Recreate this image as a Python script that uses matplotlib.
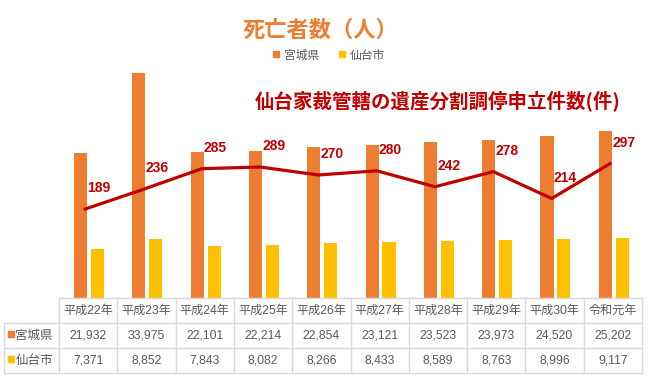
import numpy as np
import matplotlib.pyplot as plt
from matplotlib.lines import Line2D

plt.rcParams['font.family'] = ['Noto Sans CJK JP', 'DejaVu Sans']

# data
years = ["平成22年", "平成23年", "平成24年", "平成25年", "平成26年",
         "平成27年", "平成28年", "平成29年", "平成30年", "令和元年"]
miyagi = [21932, 33975, 22101, 22214, 22854, 23121, 23523, 23973, 24520, 25202]
sendai = [7371, 8852, 7843, 8082, 8266, 8433, 8589, 8763, 8996, 9117]
cases = [189, 236, 285, 289, 270, 280, 242, 278, 214, 297]

ORANGE = "#ED7D31"
YELLOW = "#FFC000"
RED = "#C00000"
GRAY = "#595959"
GRID = "#D9D9D9"
NUMFONT = ['Liberation Sans', 'Noto Sans CJK JP']

W, H = 652, 382
fig = plt.figure(figsize=(W / 100, H / 100), dpi=100)

# main axes: x 59..642 px, y 60..298 px
ax = fig.add_axes([59 / W, (H - 298) / H, 583 / W, 238 / H])
x = np.arange(len(years))
ax.bar(x - 0.13, miyagi, width=0.225, color=ORANGE, zorder=2)
ax.bar(x + 0.16, sendai, width=0.225, color=YELLOW, zorder=2)
ax.set_xlim(-0.5, len(years) - 0.5)
ax.set_ylim(0, 36000)
ax.set_xticks([])
ax.set_yticks([])
for s in ["top", "right", "left"]:
    ax.spines[s].set_visible(False)
ax.spines["bottom"].set_color(GRID)

# secondary axis for the line
ax2 = ax.twinx()
ax2.plot(x - 0.05, cases, color=RED, lw=2.3, zorder=3)
ax2.set_ylim(-22.9, 543.8)
ax2.set_yticks([])
for s in ["top", "right", "left", "bottom"]:
    ax2.spines[s].set_visible(False)
for xi, v in zip(x, cases):
    ax2.annotate(str(v), xy=(xi - 0.05, v), xytext=(1.5, 15), textcoords="offset points",
                 ha="left", va="center", fontsize=10, fontweight="bold", color=RED,
                 family=NUMFONT)

# titles
fig.text(320 / W, 1 - 30.5 / H, "死亡者数（人）", ha="center", va="center",
         fontsize=16, fontweight="bold", color=ORANGE)
fig.text(255 / W, 1 - 101 / H, "仙台家裁管轄の遺産分割調停申立件数(件)", ha="left", va="center",
         fontsize=14, fontweight="bold", color=RED)

handles = [Line2D([], [], marker="s", ls="none", color=ORANGE, markersize=5),
           Line2D([], [], marker="s", ls="none", color=YELLOW, markersize=5)]
fig.legend(handles, ["宮城県", "仙台市"], loc="center", bbox_to_anchor=(329 / W, 1 - 55 / H),
           ncol=2, frameon=False, fontsize=8.5, handlelength=0.6, handletextpad=0.4,
           columnspacing=1.6, labelcolor=GRAY)

# data table below: x aligned with categories, rows 298..373 px
tab = fig.add_axes([59 / W, (H - 373) / H, 583 / W, 75 / H])
tab.set_xlim(-0.5, len(years) - 0.5)
tab.set_ylim(3, 0)
tab.axis("off")
lx = -0.5 - 55 / 58.3
kw = dict(color=GRID, lw=1, clip_on=False)
tab.plot([-0.5, len(years) - 0.5], [0, 0], **kw)
for r in [1, 2, 3]:
    tab.plot([lx, len(years) - 0.5], [r, r], **kw)
for c in range(len(years) + 1):
    tab.plot([c - 0.5, c - 0.5], [0, 3], **kw)
tab.plot([lx, lx], [1, 3], **kw)

for i, y in enumerate(years):
    tab.text(i, 0.5, y, ha="center", va="center", fontsize=8.7, color=GRAY, family=NUMFONT)
    tab.text(i, 1.5, f"{miyagi[i]:,}", ha="center", va="center", fontsize=8.7, color=GRAY,
             family=NUMFONT)
    tab.text(i, 2.5, f"{sendai[i]:,}", ha="center", va="center", fontsize=8.7, color=GRAY,
             family=NUMFONT)

for row, (name, col) in enumerate([("宮城県", ORANGE), ("仙台市", YELLOW)], start=1):
    tab.plot(lx + 6.5 / 58.3, row + 0.45, marker="s", color=col, markersize=5, clip_on=False)
    tab.text(lx + 11.5 / 58.3, row + 0.5, name, ha="left", va="center", fontsize=9,
             color=GRAY, clip_on=False)

plt.savefig("out.png", dpi=100)
